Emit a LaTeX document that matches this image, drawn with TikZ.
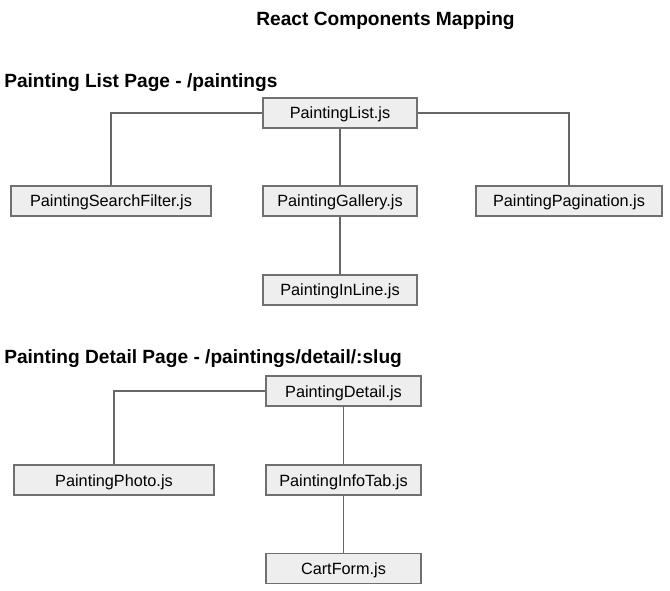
\documentclass[tikz,border=0pt]{standalone}
\usepackage{fontspec}
\setmainfont{Liberation Sans}
\usepackage{tikz}
\definecolor{boxfill}{HTML}{EEEEEE}
\definecolor{boxline}{HTML}{707070}
\definecolor{wire}{HTML}{666666}

\begin{document}
\begin{tikzpicture}[x=0.75pt, y=-0.75pt,
    comp/.style={draw=boxline, fill=boxfill, line width=0.9pt, minimum height=22.5pt,
      inner sep=0pt, text height=11pt, text depth=2pt, font=\fontsize{12.2}{14}\selectfont},
    link/.style={draw=wire, line width=0.9pt},
    heading/.style={inner sep=0pt, font=\fontsize{14.35}{16}\selectfont\bfseries}]
   \useasboundingbox (0,0) rectangle (670,591);

   \node[heading, anchor=base] (title) at (385.5,26) {React Components Mapping};

   % list page
   \node[heading, anchor=base west] (listhead) at (4,87.5) {Painting List Page - /paintings};
   \node[comp, minimum width=115.5pt] (list) at (340,113) {PaintingList.js};
   \node[comp, minimum width=150pt] (filter) at (111,201) {PaintingSearchFilter.js};
   \node[comp, minimum width=115.5pt] (gallery) at (340,201) {PaintingGallery.js};
   \node[comp, minimum width=139.5pt] (pagination) at (569,201) {PaintingPagination.js};
   \node[comp, minimum width=115.5pt] (inline) at (340,290) {PaintingInLine.js};

   \draw[link] (list.west) -| (filter.north);
   \draw[link] (list.east) -| (pagination.north);
   \draw[link] (list) -- (gallery);
   \draw[link] (gallery) -- (inline);

   % detail page
   \node[heading, anchor=base west] (detailhead) at (4,363) {Painting Detail Page - /paintings/detail/:slug};
   \node[comp, minimum width=116.25pt] (detail) at (343.5,391) {PaintingDetail.js};
   \node[comp, minimum width=150pt] (photo) at (114,480) {PaintingPhoto.js};
   \node[comp, minimum width=116.25pt] (infotab) at (343.5,480) {PaintingInfoTab.js};
   \node[comp, minimum width=116.25pt] (cart) at (343.5,568.5) {CartForm.js};

   \draw[link] (detail.west) -| (photo.north);
   \draw[link] (detail) -- (infotab);
   \draw[link] (infotab) -- (cart);
  \end{tikzpicture}
\end{document}
